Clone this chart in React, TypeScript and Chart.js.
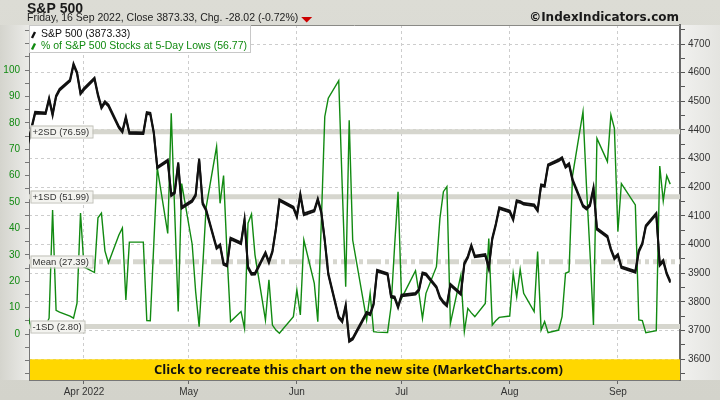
import React, { useEffect, useRef } from 'react';
import { Chart, registerables } from 'chart.js';

Chart.register(...registerables);

// ---------------- DATA ----------------
const DATES: string[] = [
  '2022-03-16','2022-03-17','2022-03-18','2022-03-21','2022-03-22','2022-03-23','2022-03-24','2022-03-25','2022-03-28','2022-03-29','2022-03-30','2022-03-31',
  '2022-04-01','2022-04-04','2022-04-05','2022-04-06','2022-04-07','2022-04-08','2022-04-11','2022-04-12','2022-04-13','2022-04-14','2022-04-18','2022-04-19','2022-04-20','2022-04-21','2022-04-22','2022-04-25','2022-04-26','2022-04-27','2022-04-28','2022-04-29',
  '2022-05-02','2022-05-03','2022-05-04','2022-05-05','2022-05-06','2022-05-09','2022-05-10','2022-05-11','2022-05-12','2022-05-13','2022-05-16','2022-05-17','2022-05-18','2022-05-19','2022-05-20','2022-05-23','2022-05-24','2022-05-25','2022-05-26','2022-05-27','2022-05-31',
  '2022-06-01','2022-06-02','2022-06-03','2022-06-06','2022-06-07','2022-06-08','2022-06-09','2022-06-10','2022-06-13','2022-06-14','2022-06-15','2022-06-16','2022-06-17','2022-06-21','2022-06-22','2022-06-23','2022-06-24','2022-06-27','2022-06-28','2022-06-29','2022-06-30',
  '2022-07-01','2022-07-05','2022-07-06','2022-07-07','2022-07-08','2022-07-11','2022-07-12','2022-07-13','2022-07-14','2022-07-15','2022-07-18','2022-07-19','2022-07-20','2022-07-21','2022-07-22','2022-07-25','2022-07-26','2022-07-27','2022-07-28','2022-07-29',
  '2022-08-01','2022-08-02','2022-08-03','2022-08-04','2022-08-05','2022-08-08','2022-08-09','2022-08-10','2022-08-11','2022-08-12','2022-08-15','2022-08-16','2022-08-17','2022-08-18','2022-08-19','2022-08-22','2022-08-23','2022-08-24','2022-08-25','2022-08-26','2022-08-29','2022-08-30','2022-08-31',
  '2022-09-01','2022-09-02','2022-09-06','2022-09-07','2022-09-08','2022-09-09','2022-09-12','2022-09-13','2022-09-14','2022-09-15','2022-09-16',
];

const SPX: number[] = [
  4357.86,4411.67,4463.12,4461.18,4511.61,4456.24,4520.16,4543.06,4575.52,4631.60,4602.45,4530.41,
  4545.86,4582.64,4525.12,4481.15,4500.21,4488.28,4412.53,4397.45,4446.59,4392.59,4391.69,4462.21,4459.45,4393.66,4271.78,4296.12,4175.20,4183.96,4287.50,4131.93,
  4155.38,4175.48,4300.17,4146.87,4123.34,3991.24,4001.05,3935.18,3930.08,4023.89,4008.01,4088.85,3923.68,3900.79,3901.36,3973.75,3941.48,3978.73,4057.84,4158.24,4132.15,
  4101.23,4176.82,4108.54,4121.43,4160.68,4115.77,4017.82,3900.86,3749.63,3735.48,3789.99,3666.77,3674.84,3764.79,3759.89,3795.73,3911.74,3900.11,3821.55,3818.83,3785.38,
  3825.33,3831.39,3845.08,3902.62,3899.38,3854.43,3818.80,3801.78,3790.38,3863.16,3830.85,3936.69,3959.90,3998.95,3961.63,3966.84,3921.05,4023.61,4072.43,4130.29,
  4118.63,4091.19,4155.17,4151.94,4145.19,4140.06,4122.47,4210.24,4207.27,4280.15,4297.14,4305.20,4274.04,4283.74,4228.48,4137.99,4128.73,4140.77,4199.12,4057.66,4030.61,3986.16,3955.00,
  3966.85,3924.26,3908.19,3979.87,4006.18,4067.36,4110.41,3932.69,3946.01,3901.35,3873.33,
];

const PCT_LOWS: number[] = [
  6.5,2,1.5,3,6,47,9,8.3,6.8,6,11.7,45.8,
  25.4,23.3,44,45.8,31.5,26.9,37.5,40.2,12.9,34.8,34.8,5.1,5,34,62.9,38.1,83.6,46,8.5,57,
  34,16,2.8,25,48,71,49.5,60,30,4.7,8.5,2.1,42,45.4,30,5.3,20.5,3.4,1.5,0.3,6.6,
  16.7,7.2,35.6,19.2,4.7,42,82.3,89.3,96,56,17.9,81,35.6,5.3,15.4,0.9,0.7,0.6,10.4,33,53.9,
  13.5,24,15.4,5.9,15.4,25.5,43.8,53.9,55.8,4,22.3,0.9,9.7,8,6.6,11.6,36.2,3.4,5,6.3,
  6.8,23,14.1,24.5,15.4,8.5,31.2,1.5,4.7,0.5,1.5,6.6,23,23.6,60,84.2,56,31,3.4,74.1,65.3,83,77.9,
  38.8,57,48.9,5.3,5.1,0.5,1.3,63.6,50.4,60,56.77,
];

const SERIES_LABELS = ['S&P 500', '% of S&P 500 Stocks at 5-Day Lows'];
const MONTH_TICKS = ['2022-04-01','2022-05-01','2022-06-01','2022-07-01','2022-08-01','2022-09-01'];
const MONTH_LABELS = ['Apr 2022','May','Jun','Jul','Aug','Sep'];
const SD_VALUES = [76.59, 51.99, 27.39, 2.80];
const SD_LABELS = ['+2SD (76.59)', '+1SD (51.99)', 'Mean (27.39)', '-1SD (2.80)'];
const LEFT_LABELS = [0,10,20,30,40,50,60,70,80,90,100];
const RIGHT_LABELS = [3600,3700,3800,3900,4000,4100,4200,4300,4400,4500,4600,4700];
const TITLE = 'S&P 500';
const SITE = '\u00A9IndexIndicators.com';
const BANNER = 'Click to recreate this chart on the new site (MarketCharts.com)';

// ---------------- helpers ----------------
const BASE = Date.UTC(2022, 2, 16);
const dayOf = (s: string) => {
  const [y, m, d] = s.split('-').map(Number);
  return (Date.UTC(y, m - 1, d) - BASE) / 86400000;
};
const X_MIN = 0.24, X_MAX = 186.8;
const YL_MIN = -17.42, YL_MAX = 117.05;
const YR_MIN = 3527.8, YR_MAX = 4766.3;

const GREEN = '#118a11';
const FONT = "'Liberation Sans', Arial, sans-serif";
const WD = ['Sunday','Monday','Tuesday','Wednesday','Thursday','Friday','Saturday'];
const MN = ['Jan','Feb','Mar','Apr','May','Jun','Jul','Aug','Sep','Oct','Nov','Dec'];

function subtitleText() {
  const n = SPX.length;
  const last = SPX[n - 1], prev = SPX[n - 2];
  const chg = last - prev;
  const pct = (chg / prev) * 100;
  const [y, m, d] = DATES[n - 1].split('-').map(Number);
  const wd = WD[new Date(Date.UTC(y, m - 1, d)).getUTCDay()];
  return `${wd}, ${d} ${MN[m - 1]} ${y}, Close ${last.toFixed(2)}, Chg. ${chg.toFixed(2)} (${pct.toFixed(2)}%)`;
}

const decorPlugin = {
  id: 'decor',
  beforeDraw(chart: any) {
    const { ctx, chartArea: a, width, height } = chart;
    ctx.save();
    const g = ctx.createLinearGradient(0, 0, 0, height);
    g.addColorStop(0, '#dcdcd5');
    g.addColorStop(1, '#d3d3cb');
    ctx.fillStyle = g;
    ctx.fillRect(0, 0, width, height);
    const gl = ctx.createLinearGradient(0, 0, a.left, 0);
    gl.addColorStop(0, '#d4d4cd');
    gl.addColorStop(1, '#ebebe8');
    ctx.fillStyle = gl;
    ctx.fillRect(0, a.top, a.left, a.bottom - a.top);
    const gr = ctx.createLinearGradient(a.right, 0, width, 0);
    gr.addColorStop(0, '#f1f1ef');
    gr.addColorStop(1, '#e4e4e0');
    ctx.fillStyle = gr;
    ctx.fillRect(a.right, a.top, width - a.right, a.bottom - a.top);
    ctx.fillStyle = '#ffffff';
    ctx.fillRect(a.left, a.top, a.right - a.left, a.bottom - a.top);
    ctx.restore();
  },
  beforeDatasetsDraw(chart: any) {
    const { ctx, chartArea: a } = chart;
    const yL = chart.scales.yL;
    ctx.save();
    ctx.strokeStyle = '#d6d6ce';
    ctx.lineWidth = 5;
    SD_VALUES.forEach((v, i) => {
      const y = yL.getPixelForValue(v);
      ctx.setLineDash(i === 2 ? [14, 4, 4, 4] : []);
      ctx.beginPath();
      ctx.moveTo(a.left, y);
      ctx.lineTo(a.right, y);
      ctx.stroke();
    });
    ctx.restore();
  },
  afterDatasetDraw(chart: any, args: any) {
    if (args.index !== 0) return;
    const { ctx, chartArea: a } = chart;
    ctx.save();
    ctx.beginPath();
    ctx.rect(a.left, a.top, a.right - a.left, a.bottom - a.top);
    ctx.clip();
    ctx.translate(0, 1.6);
    args.meta.dataset.draw(ctx, a);
    ctx.restore();
  },
  afterDatasetsDraw(chart: any) {
    const { ctx, chartArea: a } = chart;
    const yL = chart.scales.yL;
    ctx.save();
    ctx.font = `9.5px ${FONT}`;
    ctx.textBaseline = 'middle';
    SD_LABELS.forEach((t, i) => {
      const y = Math.round(yL.getPixelForValue(SD_VALUES[i]));
      const w = ctx.measureText(t).width;
      const bx = a.left + 1.5, bw = Math.round(w + 5), by = y - 6.5, bh = 12;
      ctx.fillStyle = '#f3f3ef';
      ctx.fillRect(bx, by, bw, bh);
      ctx.strokeStyle = '#c2c2ba';
      ctx.lineWidth = 1;
      ctx.strokeRect(bx + 0.5, by + 0.5, bw, bh);
      ctx.fillStyle = '#333';
      ctx.fillText(t, bx + 2, y);
    });
    ctx.restore();
  },
  afterDraw(chart: any) {
    const { ctx, chartArea: a } = chart;
    ctx.save();
    // top frame
    ctx.strokeStyle = '#8a8a86';
    ctx.lineWidth = 1;
    ctx.beginPath();
    ctx.moveTo(a.left, a.top + 0.5);
    ctx.lineTo(a.right, a.top + 0.5);
    ctx.stroke();

    // banner
    const bTop = chart.scales.yR.getPixelForValue(3600);
    ctx.fillStyle = '#ffd700';
    ctx.fillRect(a.left + 1, bTop, a.right - a.left - 1, a.bottom - bTop);
    ctx.fillStyle = '#111';
    ctx.font = `bold 13px 'Open Sans', ${FONT}`;
    ctx.textAlign = 'center';
    ctx.textBaseline = 'middle';
    ctx.fillText(BANNER, (a.left + a.right) / 2 + 4, (bTop + a.bottom) / 2 + 0.5);

    // legend
    ctx.textAlign = 'left';
    ctx.textBaseline = 'alphabetic';
    ctx.fillStyle = '#ffffff';
    ctx.fillRect(a.left + 0.5, a.top + 0.5, 221, 27);
    ctx.strokeStyle = '#c8c8c8';
    ctx.strokeRect(a.left + 0.5, a.top + 0.5, 221, 27);
    const items = [
      { t: `${SERIES_LABELS[0]} (${SPX[SPX.length - 1].toFixed(2)})`, c: '#111', y: 37 },
      { t: `${SERIES_LABELS[1]} (${PCT_LOWS[PCT_LOWS.length - 1].toFixed(2)})`, c: GREEN, y: 48.5 },
    ];
    ctx.font = `10.5px ${FONT}`;
    items.forEach((it) => {
      ctx.strokeStyle = it.c;
      ctx.lineWidth = 2.4;
      ctx.beginPath();
      ctx.moveTo(a.left + 3, it.y + 1);
      ctx.lineTo(a.left + 6, it.y - 5);
      ctx.stroke();
      ctx.fillStyle = it.c;
      ctx.fillText(it.t, a.left + 12, it.y);
    });

    // header
    ctx.fillStyle = '#1a1a1a';
    ctx.font = `bold 14px ${FONT}`;
    ctx.fillText(TITLE, 27, 12.5);
    ctx.font = `10.5px ${FONT}`;
    const sub = subtitleText();
    ctx.fillStyle = '#222';
    ctx.fillText(sub, 27, 21);
    const sw = ctx.measureText(sub).width;
    const tx = 27 + sw + 3;
    ctx.fillStyle = '#cc0000';
    ctx.beginPath();
    ctx.moveTo(tx, 17);
    ctx.lineTo(tx + 11, 17);
    ctx.lineTo(tx + 5.5, 22.5);
    ctx.closePath();
    ctx.fill();
    ctx.fillStyle = '#1a1a1a';
    ctx.font = `bold 12px 'DejaVu Sans', Verdana, sans-serif`;
    ctx.textAlign = 'right';
    ctx.fillText(SITE, 679, 21);
    ctx.restore();
  },
};

export default function App() {
  const ref = useRef<HTMLCanvasElement>(null);
  useEffect(() => {
    if (!ref.current) return;
    const spxData = DATES.map((d, i) => ({ x: dayOf(d), y: SPX[i] }));
    const pctData = DATES.map((d, i) => ({ x: dayOf(d), y: PCT_LOWS[i] }));
    const chart = new Chart(ref.current, {
      type: 'line',
      data: {
        datasets: [
          { label: SERIES_LABELS[0], data: spxData, yAxisID: 'yR', borderColor: '#111', borderWidth: 2, pointRadius: 0, tension: 0 },
          { label: SERIES_LABELS[1], data: pctData, yAxisID: 'yL', borderColor: GREEN, borderWidth: 1.4, pointRadius: 0, tension: 0 },
        ],
      },
      options: {
        animation: false,
        responsive: false,
        devicePixelRatio: 1,
        layout: { padding: { top: 25, left: 0, right: 0, bottom: 0 } },
        plugins: { legend: { display: false }, tooltip: { enabled: false }, title: { display: false } },
        scales: {
          x: {
            type: 'linear',
            min: X_MIN,
            max: X_MAX,
            afterBuildTicks: (s: any) => { s.ticks = MONTH_TICKS.map((d) => ({ value: dayOf(d) })); },
            afterFit: (s: any) => { s.height = 20; },
            ticks: {
              autoSkip: false, maxRotation: 0, padding: 2, color: '#333',
              font: { family: FONT, size: 10 },
              callback: (_v: any, i: number) => MONTH_LABELS[i],
            },
            grid: { color: '#cdcdcd', tickColor: '#666', tickLength: 4 },
            border: { dash: [3, 3], color: '#777' },
          },
          yL: {
            type: 'linear',
            position: 'left',
            min: YL_MIN,
            max: YL_MAX,
            afterBuildTicks: (s: any) => {
              const t: any[] = [];
              for (let v = -15; v <= 115; v += 5) t.push({ value: v });
              s.ticks = t;
            },
            afterFit: (s: any) => { s.width = 29; },
            ticks: {
              autoSkip: false,
              padding: 5, color: GREEN, font: { family: FONT, size: 10 },
              callback: (v: any) => (LEFT_LABELS.includes(v) ? String(v) : ''),
            },
            grid: { drawOnChartArea: false, tickColor: '#777', tickLength: 4 },
            border: { color: '#777' },
          },
          yR: {
            type: 'linear',
            position: 'right',
            min: YR_MIN,
            max: YR_MAX,
            afterBuildTicks: (s: any) => {
              const t: any[] = [];
              for (let v = 3550; v <= 4750; v += 50) t.push({ value: v });
              s.ticks = t;
            },
            afterFit: (s: any) => { s.width = 40; },
            ticks: {
              autoSkip: false,
              padding: 3, color: '#333', font: { family: FONT, size: 10 },
              callback: (v: any) => (RIGHT_LABELS.includes(v) ? String(v) : ''),
            },
            grid: {
              color: (c: any) => (c.tick && RIGHT_LABELS.includes(c.tick.value) ? '#cdcdcd' : 'rgba(0,0,0,0)'),
              tickColor: '#555',
              tickLength: 5,
            },
            border: { dash: [3, 3], color: '#666', width: 2 },
          },
        },
      },
      plugins: [decorPlugin],
    } as any);
    return () => chart.destroy();
  }, []);
  return (
    <div style={{ position: 'fixed', left: 0, top: 0, width: 720, height: 400 }}>
      <canvas ref={ref} width={720} height={400} style={{ display: 'block', width: 720, height: 400 }} />
    </div>
  );
}
